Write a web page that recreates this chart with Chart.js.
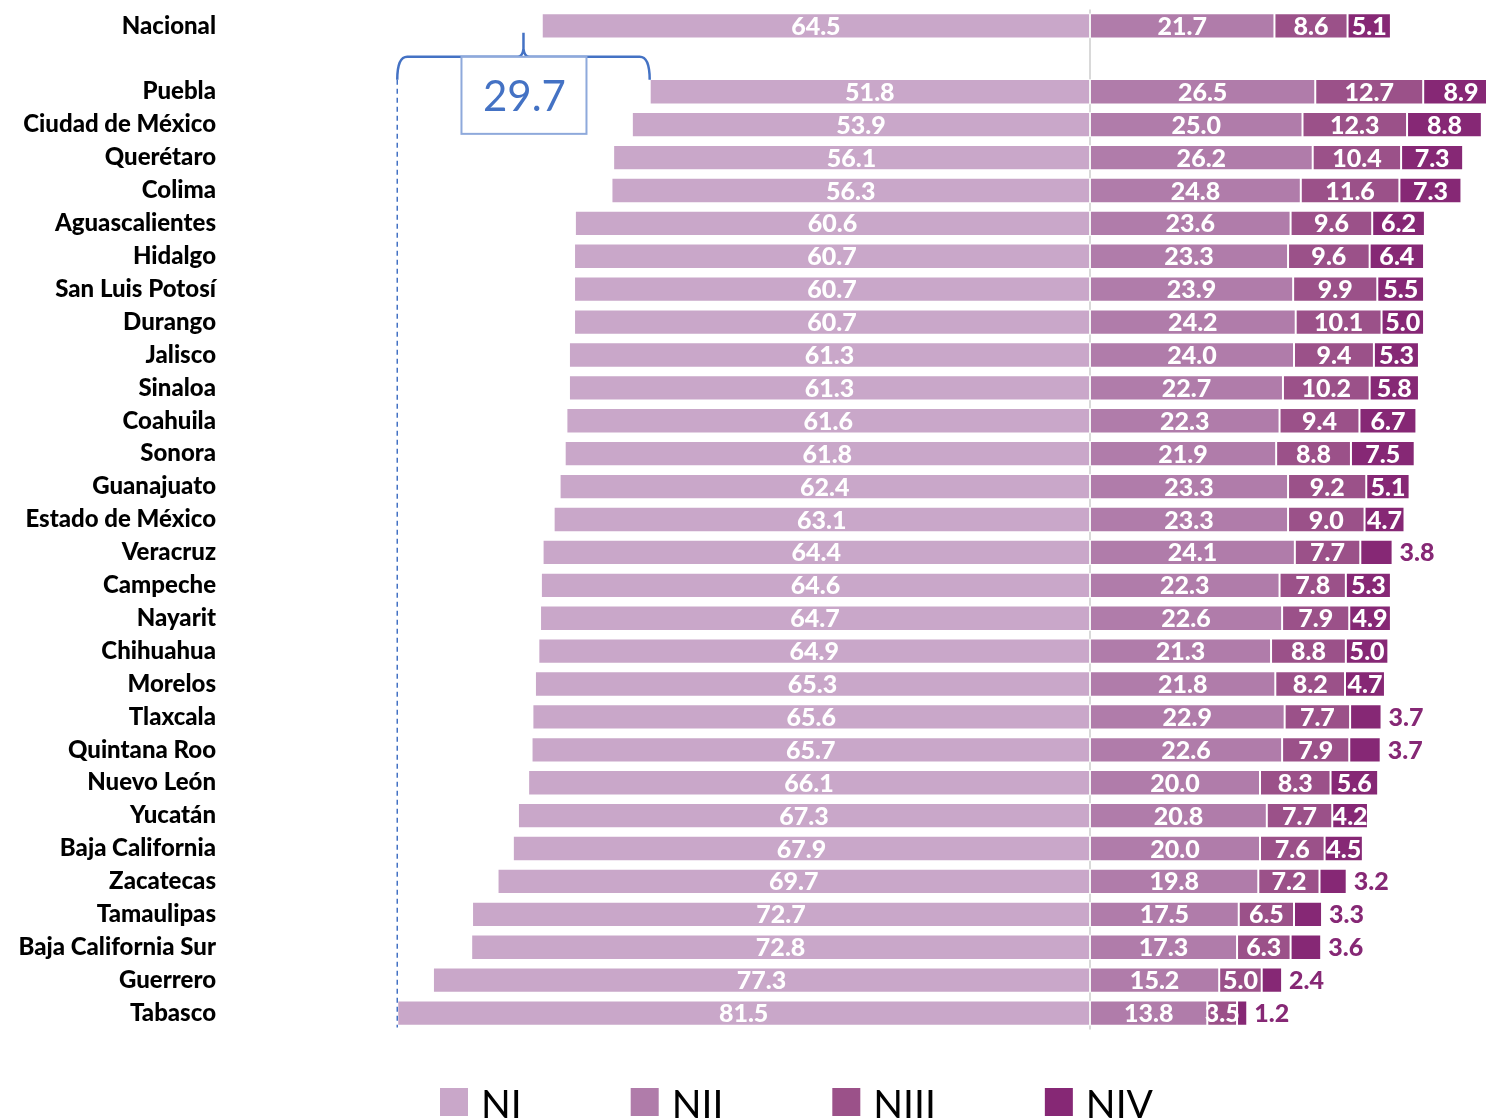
<!DOCTYPE html>
<html>
<head>
<meta charset="utf-8">
<script src="https://cdn.jsdelivr.net/npm/chart.js@4"></script>
<style>
  body { margin: 0; background: #fff; }
  #wrap { width: 1486px; height: 1118px; position: relative; }
</style>
</head>
<body>
<div id="wrap"><canvas id="myChart"></canvas></div>
<script>
// ---------------- data ----------------
var states = ['Nacional', '', 'Puebla', 'Ciudad de México', 'Querétaro', 'Colima', 'Aguascalientes',
  'Hidalgo', 'San Luis Potosí', 'Durango', 'Jalisco', 'Sinaloa', 'Coahuila', 'Sonora', 'Guanajuato',
  'Estado de México', 'Veracruz', 'Campeche', 'Nayarit', 'Chihuahua', 'Morelos', 'Tlaxcala',
  'Quintana Roo', 'Nuevo León', 'Yucatán', 'Baja California', 'Zacatecas', 'Tamaulipas',
  'Baja California Sur', 'Guerrero', 'Tabasco'];

var levelNames = ['NI', 'NII', 'NIII', 'NIV'];

var nI = [64.5, null, 51.8, 53.9, 56.1, 56.3, 60.6, 60.7, 60.7, 60.7, 61.3, 61.3, 61.6, 61.8, 62.4,
  63.1, 64.4, 64.6, 64.7, 64.9, 65.3, 65.6, 65.7, 66.1, 67.3, 67.9, 69.7, 72.7, 72.8, 77.3, 81.5];
var nII = [21.7, null, 26.5, 25.0, 26.2, 24.8, 23.6, 23.3, 23.9, 24.2, 24.0, 22.7, 22.3, 21.9, 23.3,
  23.3, 24.1, 22.3, 22.6, 21.3, 21.8, 22.9, 22.6, 20.0, 20.8, 20.0, 19.8, 17.5, 17.3, 15.2, 13.8];
var nIII = [8.6, null, 12.7, 12.3, 10.4, 11.6, 9.6, 9.6, 9.9, 10.1, 9.4, 10.2, 9.4, 8.8, 9.2,
  9.0, 7.7, 7.8, 7.9, 8.8, 8.2, 7.7, 7.9, 8.3, 7.7, 7.6, 7.2, 6.5, 6.3, 5.0, 3.5];
var nIV = [5.1, null, 8.9, 8.8, 7.3, 7.3, 6.2, 6.4, 5.5, 5.0, 5.3, 5.8, 6.7, 7.5, 5.1,
  4.7, 3.8, 5.3, 4.9, 5.0, 4.7, 3.7, 3.7, 5.6, 4.2, 4.5, 3.2, 3.3, 3.6, 2.4, 1.2];

var levelColors = ['#C9A7C9', '#B07CAA', '#9B5189', '#862875'];
var levelValues = [nI, nII, nIII, nIV];

// ---------------- plugins ----------------
// labels inside the bars (small NIV values go outside)
var barLabels = {
  id: 'barLabels',
  afterDatasetsDraw: function (chart) {
    var ctx = chart.ctx;
    ctx.save();
    ctx.font = '900 25px Lato';
    ctx.textBaseline = 'middle';
    levelValues.forEach(function (vals, i) {
      var meta = chart.getDatasetMeta(i);
      meta.data.forEach(function (bar, j) {
        var v = vals[j];
        if (v === null) return;
        if (i === 3 && v < 4) {
          ctx.fillStyle = '#862875';
          ctx.textAlign = 'left';
          ctx.fillText(v.toFixed(1), Math.max(bar.x, bar.base) + 7, bar.y + 1);
        } else {
          ctx.fillStyle = '#ffffff';
          ctx.textAlign = 'center';
          ctx.fillText(v.toFixed(1), (bar.x + bar.base) / 2, bar.y + 1);
        }
      });
    });
    ctx.restore();
  }
};

// zero line, brace with the range, and legend
var extras = {
  id: 'extras',
  beforeDatasetsDraw: function (chart) {
    var ctx = chart.ctx, xs = chart.scales.x, area = chart.chartArea;
    var x0 = xs.getPixelForValue(0);
    ctx.save();
    ctx.strokeStyle = '#D9D9D9';
    ctx.lineWidth = 2;
    ctx.beginPath();
    ctx.moveTo(x0, area.top);
    ctx.lineTo(x0, area.bottom);
    ctx.stroke();
    ctx.restore();
  },
  afterDraw: function (chart) {
    var ctx = chart.ctx, xs = chart.scales.x, ys = chart.scales.y, area = chart.chartArea;
    var shown = nI.filter(function (v) { return v !== null; }).slice(1);
    var hi = Math.max.apply(null, shown), lo = Math.min.apply(null, shown);
    var xL = xs.getPixelForValue(-hi), xR = xs.getPixelForValue(-lo);
    var xm = (xL + xR) / 2;
    var yb = ys.getPixelForValue(1) - 2;

    ctx.save();
    // dashed guide
    ctx.strokeStyle = '#4472C4';
    ctx.lineWidth = 1.5;
    ctx.setLineDash([5, 4]);
    ctx.beginPath();
    ctx.moveTo(xL, yb + 23);
    ctx.lineTo(xL, area.bottom - 2);
    ctx.stroke();
    ctx.setLineDash([]);

    // brace
    ctx.lineWidth = 2.5;
    ctx.beginPath();
    ctx.moveTo(xL, yb + 23);
    ctx.quadraticCurveTo(xL, yb, xL + 10, yb);
    ctx.lineTo(xm - 6, yb);
    ctx.quadraticCurveTo(xm - 1, yb, xm, yb - 8);
    ctx.lineTo(xm, yb - 24);
    ctx.moveTo(xm, yb - 8);
    ctx.quadraticCurveTo(xm + 1, yb, xm + 6, yb);
    ctx.lineTo(xR - 10, yb);
    ctx.quadraticCurveTo(xR, yb, xR, yb + 23);
    ctx.stroke();

    // box with the difference
    ctx.fillStyle = '#ffffff';
    ctx.fillRect(xm - 62, yb, 125, 77);
    ctx.strokeStyle = '#8EA9DB';
    ctx.lineWidth = 2;
    ctx.strokeRect(xm - 62, yb, 125, 77);
    ctx.fillStyle = '#4472C4';
    ctx.font = '42px Lato';
    ctx.textAlign = 'center';
    ctx.textBaseline = 'alphabetic';
    ctx.fillText((hi - lo).toFixed(1), xm + 1, yb + 54);

    // legend
    ctx.font = '39px Lato';
    ctx.textAlign = 'left';
    var x = 440, y = 1088;
    levelNames.forEach(function (name, i) {
      ctx.fillStyle = levelColors[i];
      ctx.fillRect(x, y, 28, 28);
      ctx.fillStyle = '#000000';
      ctx.fillText(name, x + 41, y + 30);
      x += 41 + ctx.measureText(name).width + 109;
    });
    ctx.restore();
  }
};

// ---------------- chart ----------------
var ctx = document.getElementById('myChart').getContext('2d');
var myChart = new Chart(ctx, {
  type: 'bar',
  data: {
    labels: states,
    datasets: levelValues.map(function (vals, i) {
      return {
        label: levelNames[i],
        data: vals.map(function (v) { return v === null ? null : (i === 0 ? -v : v); }),
        backgroundColor: levelColors[i],
        borderColor: 'rgba(255,255,255,0.7)',
        borderWidth: 1,
        borderSkipped: false,
        categoryPercentage: 1,
        barPercentage: 0.77
      };
    })
  },
  options: {
    indexAxis: 'y',
    responsive: true,
    maintainAspectRatio: false,
    animation: false,
    layout: { padding: { top: 9.5, bottom: 88.5, left: 0, right: 0 } },
    plugins: {
      legend: { display: false },
      tooltip: { enabled: false }
    },
    scales: {
      x: {
        stacked: true,
        display: false,
        min: -860 / 8.5,
        max: 396 / 8.5
      },
      y: {
        stacked: true,
        grid: { display: false, drawTicks: false },
        border: { display: false },
        afterFit: function (s) {
          s.width = 230;
          s.paddingTop = 0;
          s.paddingBottom = 0;
        },
        ticks: {
          padding: 14,
          color: '#000000',
          autoSkip: false,
          font: { family: 'Lato', size: 24, weight: '900' }
        }
      }
    }
  },
  plugins: [barLabels, extras]
});
</script>
</body>
</html>
